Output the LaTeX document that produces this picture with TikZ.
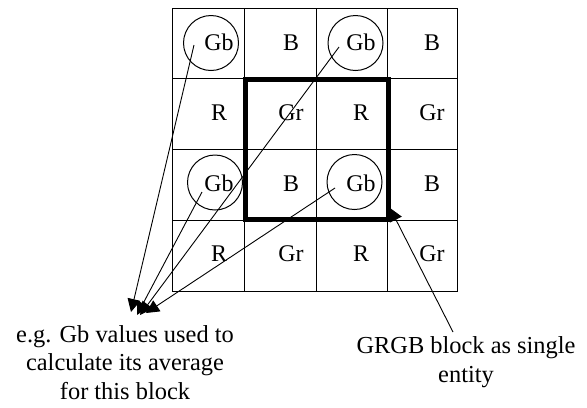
\documentclass[tikz,border=0pt]{standalone}
\usepackage{fontspec}
\setmainfont{Liberation Serif}
\usetikzlibrary{arrows.meta}
\begin{document}
\begin{tikzpicture}[x=1bp,y=-1bp,
  gridline/.style={line width=1bp},
  blockline/.style={line width=5bp, line join=miter},
  celltext/.style={anchor=base, inner sep=0pt, font=\fontsize{24}{28}\selectfont},
  gbring/.style={circle, draw, line width=1bp, minimum size=55bp, inner sep=0pt},
  pointer/.style={line width=0.9bp, -{Triangle[length=13bp,width=13bp]}},
  note/.style={align=center, inner sep=0pt, anchor=base, font=\fontsize{24.5}{28.6}\selectfont}
]
\useasboundingbox (0,0) rectangle (587,407);

% 4x4 Bayer grid
\draw[gridline] (172,8) rectangle (457,291);
\foreach \gx in {244.5,316,387.5}
  \draw[gridline] (\gx,8) -- (\gx,291);
\foreach \gy in {78.5,149.5,220}
  \draw[gridline] (172,\gy) -- (457,\gy);

% colour filter labels
\foreach \lab [count=\i from 0] in {Gb,B,Gb,B,R,Gr,R,Gr,Gb,B,Gb,B,R,Gr,R,Gr}{
  \pgfmathtruncatemacro{\col}{mod(\i,4)}
  \pgfmathtruncatemacro{\row}{div(\i,4)}
  \pgfmathsetmacro{\tx}{{219,291,361,432}[\col]}
  \pgfmathsetmacro{\ty}{{50,120.5,191,261.5}[\row]}
  \node[celltext] (cell\i) at (\tx,\ty) {\lab};
}

% central 2x2 block
\draw[blockline] (245,79.5) rectangle (388.5,219.5);

% rings around the Gb samples
\node[gbring] (gb1) at (211,43) {};
\node[gbring] (gb2) at (355.5,43) {};
\node[gbring] (gb3) at (215,182.5) {};
\node[gbring] (gb4) at (354.5,182) {};

% captions (base anchor = baseline of the last line)
\node[note] (avgnote) at (125,399) {e.g. Gb values used to\\calculate its average\\for this block};
\node[note] (blocknote) at (466,382) {GRGB block as single\\entity};

% pointer ends
\coordinate (s1) at (194,45);
\coordinate (s2) at (339,47);
\coordinate (s3) at (202,192);
\coordinate (s4) at (335,188);
\coordinate (t1) at (131,312);
\coordinate (t2) at (140,315);
\coordinate (t3) at (137,315);
\coordinate (t4) at (146,313);
\coordinate (bstart) at (453,332);
\coordinate (bcorner) at (390,208);

\draw[pointer] (s1) -- (t1);
\draw[pointer] (s2) -- (t2);
\draw[pointer] (s3) -- (t3);
\draw[pointer] (s4) -- (t4);
\draw[pointer] (bstart) -- (bcorner);
\end{tikzpicture}
\end{document}
